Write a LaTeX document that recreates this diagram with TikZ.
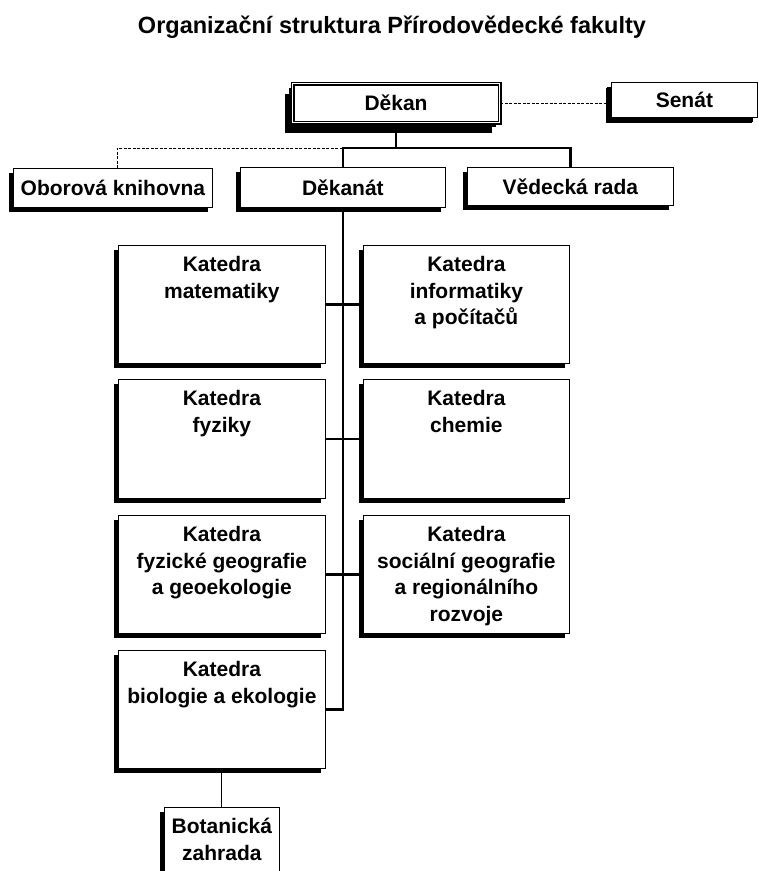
\documentclass[tikz,border=0pt]{standalone}
\usepackage{fontspec}
\setmainfont{Liberation Sans}
\usetikzlibrary{shadows}
\tikzset{
  box/.style={draw=black, line width=0.8pt, fill=white, inner sep=0pt, anchor=north west,
    general shadow={fill=black, shadow xshift=-4pt, shadow yshift=-4.5pt}},
  lbl/.style={font=\fontsize{21}{26.7}\selectfont\bfseries, align=center, inner sep=0pt},
  thick line/.style={line width=2.6pt},
  thin line/.style={line width=0.9pt},
  dash line/.style={line width=0.9pt, dash pattern=on 3pt off 1.5pt},
}
\begin{document}
\begin{tikzpicture}[x=1pt,y=-1pt]
\useasboundingbox (0,0) rectangle (759,871);
\node[font=\fontsize{23.5}{26}\selectfont\bfseries, anchor=base, inner sep=0pt] (title) at (392,33) {Organizační struktura Přírodovědecké fakulty};

% top level
\node[box, draw, double, double distance=1.8pt, line width=1.1pt, minimum width=207pt, minimum height=39pt,
  general shadow={fill=black, shadow xshift=-8pt, shadow yshift=-10pt}] (dekan) at (292,83) {};
\node[lbl] (dekanT) at (dekan.center) {Děkan};
\node[box, minimum width=146pt, minimum height=35pt,
  general shadow={fill=black, shadow xshift=-5pt, shadow yshift=-6pt}] (senat) at (611,82) {};
\node[lbl] (senatT) at (senat.center) {Senát};

\node[box, minimum width=199pt, minimum height=39pt] (knih) at (13,168) {};
\node[lbl] (knihT) at (knih.center) {Oborová knihovna};
\node[box, minimum width=205pt, minimum height=40pt] (dekanat) at (240,167) {};
\node[lbl] (dekanatT) at (dekanat.center) {Děkanát};
\node[box, minimum width=206pt, minimum height=38pt] (rada) at (467,167) {};
\node[lbl] (radaT) at (rada.center) {Vědecká rada};

% departments
\node[box, minimum width=207pt, minimum height=118pt] (mat) at (118,245) {};
\node[lbl, anchor=north] (matT) at ([yshift=-11pt]mat.north) {Katedra\\matematiky};
\node[box, minimum width=206pt, minimum height=118pt] (inf) at (363,245) {};
\node[lbl, anchor=north] (infT) at ([yshift=-11pt]inf.north) {Katedra\\informatiky\\a počítačů};
\node[box, minimum width=207pt, minimum height=119pt] (fyz) at (118,379) {};
\node[lbl, anchor=north] (fyzT) at ([yshift=-11pt]fyz.north) {Katedra\\fyziky};
\node[box, minimum width=206pt, minimum height=119pt] (chem) at (363,379) {};
\node[lbl, anchor=north] (chemT) at ([yshift=-11pt]chem.north) {Katedra\\chemie};
\node[box, minimum width=207pt, minimum height=118pt] (fgeo) at (118,515) {};
\node[lbl, anchor=north] (fgeoT) at ([yshift=-11pt]fgeo.north) {Katedra\\fyzické geografie\\a geoekologie};
\node[box, minimum width=206pt, minimum height=118pt] (sgeo) at (363,515) {};
\node[lbl, anchor=north] (sgeoT) at ([yshift=-11pt]sgeo.north) {Katedra\\sociální geografie\\a regionálního\\rozvoje};
\node[box, minimum width=207pt, minimum height=118pt] (bio) at (118,650) {};
\node[lbl, anchor=north] (bioT) at ([yshift=-11pt]bio.north) {Katedra\\biologie a ekologie};
\node[box, minimum width=115pt, minimum height=80pt] (bot) at (164,807) {};
\node[lbl, anchor=north] (botT) at ([yshift=-11pt]bot.north) {Botanická\\zahrada};

% connectors
\coordinate (bus) at (dekan.south |- 0,148);
\coordinate (busL) at (dekanat.north |- bus);
\coordinate (busR) at (rada.north |- bus);
\coordinate (busK) at (knih.north -| 117,0);
\coordinate (spineEnd) at (dekanat.south |- bio.east);
\draw[thick line] (dekan.south) -- (bus);
\draw[thick line] (dekanat.north) -- (busL) -- (busR) -- (rada.north);
\draw[dash line] (busL) -- (busK |- bus) -- (busK);
\draw[dash line] (dekan.east) -- (dekan.east -| senat.west);
\draw[thick line] (dekanat.south) -- (spineEnd) -- (bio.east);
\draw[thick line] (mat.east) -- (inf.west);
\draw[thick line] (fyz.east) -- (chem.west);
\draw[thick line] (fgeo.east) -- (sgeo.west);
\draw[thin line] (bio.south -| bot.north) -- (bot.north);
\end{tikzpicture}
\end{document}
